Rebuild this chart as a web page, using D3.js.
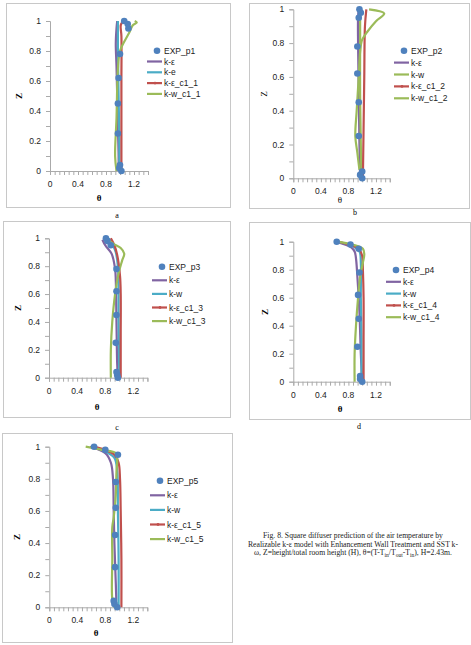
<!DOCTYPE html>
<html>
<head>
<meta charset="utf-8">
<script src="https://cdn.jsdelivr.net/npm/d3@7"></script>
<style>
  body { margin: 0; background: #fff; }
  svg text { font-family: "Liberation Sans", Arial, sans-serif; }
  .serif { font-family: "Liberation Serif", "Times New Roman", serif !important; }
</style>
</head>
<body>
<svg id="chart" width="471" height="645"></svg>
<script>
// measured heights (Z) of the experimental points, shared by all panels
const zLevels = [0, 0.02, 0.04, 0.25, 0.45, 0.62, 0.78, 0.95, 0.98, 1.0];

// experimental theta at each z level
const expP1 = [1.02, 0.99, 1.0, 0.97, 0.97, 0.98, 1.0, 1.12, 1.11, 1.06];
const expP2 = [1.0, 0.97, 1.0, 0.95, 0.95, 0.93, 0.93, 0.95, 0.98, 0.96];
const expP3 = [0.98, 0.97, 0.96, 0.95, 0.96, 0.96, 0.96, 0.88, 0.83, 0.81];
const expP4 = [1.0, 0.97, 0.97, 0.93, 0.95, 0.94, 0.96, 0.95, 0.83, 0.63];
const expP5 = [0.97, 0.93, 0.92, 0.94, 0.94, 0.95, 0.95, 0.98, 0.8, 0.64];

// model profiles as [theta, z]
const kEps1 = [[0.98,0],[0.98,0.1],[0.97,0.3],[0.96,0.5],[0.95,0.7],[0.94,0.85],[0.95,0.95],[0.96,1.0]];
const kE1 = [[0.99,0],[0.99,0.2],[0.98,0.5],[0.97,0.8],[0.97,0.95],[0.97,1.0]];
const kEpsC1 = [[1.02,0],[1.02,0.3],[1.02,0.6],[1.02,0.9],[1.01,0.97],[1.03,0.99]];
const kWC1 = [[0.95,0],[0.93,0.1],[0.95,0.35],[0.97,0.68],[1.0,0.8],[1.07,0.87],[1.14,0.93],[1.18,0.97],[1.24,0.99],[1.21,1.0]];

const kEps2 = [[0.97,0],[0.96,0.2],[0.95,0.5],[0.94,0.8],[0.94,0.95],[0.95,1.0]];
const kW2 = [[0.99,0],[0.98,0.2],[0.97,0.5],[0.97,0.8],[0.97,1.0]];
const kEpsC2 = [[1.01,0],[1.02,0.3],[1.03,0.6],[1.04,0.9],[1.06,1.0]];
const kWC2 = [[0.96,0.05],[0.93,0.15],[0.9,0.25],[0.92,0.4],[0.95,0.6],[0.97,0.75],[1.0,0.82],[1.08,0.87],[1.2,0.93],[1.32,0.975],[1.1,1.0]];

const kEps3 = [[0.98,0],[0.97,0.1],[0.96,0.4],[0.95,0.7],[0.94,0.78],[0.89,0.89],[0.8,0.95],[0.76,0.99]];
const kW3 = [[1.0,0],[0.99,0.4],[0.98,0.8],[0.95,0.9],[0.9,0.96],[0.85,1.0]];
const kEpsC3 = [[1.02,0],[1.02,0.3],[1.02,0.6],[1.01,0.73],[0.97,0.88],[0.93,0.95],[0.88,1.0]];
const kWC3 = [[0.88,0],[0.88,0.2],[0.9,0.4],[0.94,0.6],[0.99,0.75],[1.04,0.84],[1.07,0.89],[1.02,0.93],[0.92,0.96],[0.8,1.0]];

const kEps4 = [[1.0,0],[0.98,0.2],[0.96,0.5],[0.93,0.75],[0.91,0.88],[0.89,0.93],[0.84,0.96],[0.61,1.0]];
const kW4 = [[0.99,0],[0.99,0.3],[0.98,0.6],[0.98,0.85],[0.96,0.93],[0.85,0.97],[0.65,1.0]];
const kEpsC4 = [[1.02,0],[1.02,0.3],[1.02,0.6],[1.01,0.8],[1.0,0.9],[0.95,0.95],[0.8,0.98],[0.66,1.0]];
const kWC4 = [[0.89,0],[0.89,0.2],[0.91,0.4],[0.94,0.6],[0.97,0.75],[1.01,0.85],[1.03,0.91],[1.01,0.95],[0.85,0.98],[0.64,1.0]];

const kEps5 = [[0.96,0],[0.95,0.15],[0.93,0.4],[0.92,0.6],[0.91,0.8],[0.88,0.9],[0.8,0.96],[0.58,1.0]];
const kW5 = [[0.99,0],[0.99,0.3],[0.98,0.6],[0.97,0.85],[0.93,0.93],[0.8,0.97],[0.62,1.0]];
const kEpsC5 = [[1.03,0],[1.03,0.3],[1.02,0.6],[1.01,0.8],[0.99,0.9],[0.93,0.95],[0.8,0.98],[0.62,1.0]];
const kWC5 = [[0.93,0],[0.9,0.05],[0.9,0.3],[0.9,0.5],[0.92,0.56],[0.95,0.7],[0.96,0.85],[0.97,0.92],[0.95,0.96],[0.75,0.98],[0.52,1.0]];

// legend labels
const labels1 = ["EXP_p1", "k-ε", "k-e", "k-ε_c1_1", "k-w_c1_1"];
const labels2 = ["EXP_p2", "k-ε", "k-w", "k-ε_c1_2", "k-w_c1_2"];
const labels3 = ["EXP_p3", "k-ε", "k-w", "k-ε_c1_3", "k-w_c1_3"];
const labels4 = ["EXP_p4", "k-ε", "k-w", "k-ε_c1_4", "k-w_c1_4"];
const labels5 = ["EXP_p5", "k-ε", "k-w", "k-ε_c1_5", "k-w_c1_5"];

const xTickLabels = [0, 0.4, 0.8, 1.2];
const yTickLabels = [0, 0.2, 0.4, 0.6, 0.8, 1];

const expColor = "#4F81BD";
const lineColors = ["#8064A2", "#4BACC6", "#C0504D", "#9BBB59"];

// panel layout (frame, plot area, legend, titles)
const panels = [
  {exp: expP1, lines: [kEps1, kE1, kEpsC1, kWC1], labels: labels1, colors: lineColors,
   frame: [6, 3, 224, 204], x0: 50, unit: 70, yTop: 21, yBot: 171,
   leg: {x: 163, y: 50.7, dy: 10.8}, zt: [19, 96], tt: [99, 201], cap: ["a", 117, 218], bold: true},
  {exp: expP2, lines: [kEps2, kW2, kEpsC2, kWC2], labels: labels2, colors: ["#8064A2", "#9BBB59", "#C0504D", "#9BBB59"],
   frame: [249, 3, 220, 205], x0: 293.3, unit: 68.9, yTop: 9.3, yBot: 178.3,
   leg: {x: 410, y: 50.7, dy: 11.9}, zt: [264, 94], tt: [340, 203], cap: ["b", 355, 215], bold: false},
  {exp: expP3, lines: [kEps3, kW3, kEpsC3, kWC3], labels: labels3, colors: lineColors,
   frame: [3, 221, 227, 196], x0: 49, unit: 70.3, yTop: 238.3, yBot: 377.7,
   leg: {x: 168, y: 266.7, dy: 13.6}, zt: [18, 308], tt: [97, 410], cap: ["c", 117, 430], bold: true},
  {exp: expP4, lines: [kEps4, kW4, kEpsC4, kWC4], labels: labels4, colors: lineColors,
   frame: [249, 222, 221, 197], x0: 293.3, unit: 68.9, yTop: 241.7, yBot: 381.7,
   leg: {x: 402, y: 270, dy: 11.8}, zt: [265, 312], tt: [340, 412], cap: ["d", 359, 429], bold: true},
  {exp: expP5, lines: [kEps5, kW5, kEpsC5, kWC5], labels: labels5, colors: lineColors,
   frame: [2, 433, 230, 209], x0: 49.3, unit: 70, yTop: 446.7, yBot: 607.3,
   leg: {x: 166, y: 480.7, dy: 14.6}, zt: [17, 537], tt: [96, 636], cap: null, bold: true}
];

const svg = d3.select("#chart");

panels.forEach(p => drawPanel(p));

function drawPanel(p) {
  const g = svg.append("g");
  const [fx, fy, fw, fh] = p.frame;

  g.append("rect")
    .attr("x", fx + 0.5).attr("y", fy + 0.5)
    .attr("width", fw).attr("height", fh)
    .attr("fill", "#fff").attr("stroke", "#c8c8c8");

  const x = d3.scaleLinear().domain([0, 1.4]).range([p.x0, p.x0 + 1.4 * p.unit]);
  const y = d3.scaleLinear().domain([0, 1]).range([p.yBot, p.yTop]);

  // y axis
  const yAxis = d3.axisLeft(y)
    .tickValues(d3.range(0, 11).map(i => i / 10))
    .tickSize(4)
    .tickFormat("");
  const ya = g.append("g").attr("transform", `translate(${p.x0},0)`).call(yAxis);

  // x axis
  const xAxis = d3.axisBottom(x)
    .tickValues(d3.range(0, 22).map(i => i / 15))
    .tickSize(4)
    .tickFormat("");
  const xa = g.append("g").attr("transform", `translate(0,${p.yBot})`).call(xAxis);

  [ya, xa].forEach(a => {
    a.select(".domain").attr("stroke", "#aaa");
    a.selectAll(".tick line").attr("stroke", "#aaa");
  });

  g.selectAll(".ylab").data(yTickLabels).join("text")
    .attr("x", p.x0 - 9).attr("y", d => y(d) + 3)
    .attr("text-anchor", "end").attr("font-size", 8.5).attr("fill", "#222")
    .text(d => d);

  g.selectAll(".xlab").data(xTickLabels).join("text")
    .attr("x", d => x(d)).attr("y", p.yBot + 16)
    .attr("text-anchor", "middle").attr("font-size", 8.5).attr("fill", "#222")
    .text(d => d);

  // axis titles
  g.append("text").attr("class", "serif")
    .attr("transform", `translate(${p.zt[0] + 3},${p.zt[1]}) rotate(-90)`)
    .attr("text-anchor", "middle").attr("font-size", 9)
    .attr("font-weight", p.bold ? "bold" : "normal")
    .text("Z");
  g.append("text").attr("class", "serif")
    .attr("x", p.tt[0]).attr("y", p.tt[1])
    .attr("text-anchor", "middle").attr("font-size", 9)
    .attr("font-weight", p.bold ? "bold" : "normal")
    .text("θ");

  // model lines
  const line = d3.line()
    .x(d => x(d[0])).y(d => y(d[1]))
    .curve(d3.curveCatmullRom.alpha(0.5));
  p.lines.forEach((ln, i) => {
    g.append("path").datum(ln)
      .attr("d", line)
      .attr("fill", "none")
      .attr("stroke", p.colors[i])
      .attr("stroke-width", 2.2)
      .attr("stroke-linejoin", "round");
  });

  // experimental points
  const expData = zLevels.map((z, i) => ({z: z, t: p.exp[i]}));
  g.selectAll(".exp").data(expData).join("circle")
    .attr("cx", d => x(d.t)).attr("cy", d => y(d.z))
    .attr("r", 3.3).attr("fill", expColor);

  // legend
  const lg = g.append("g");
  p.labels.forEach((lab, i) => {
    const ly = p.leg.y + i * p.leg.dy;
    if (i === 0) {
      lg.append("circle").attr("cx", p.leg.x - 6).attr("cy", ly).attr("r", 3.3).attr("fill", expColor);
    } else {
      lg.append("line")
        .attr("x1", p.leg.x - 16).attr("x2", p.leg.x - 1)
        .attr("y1", ly).attr("y2", ly)
        .attr("stroke", p.colors[i - 1]).attr("stroke-width", 2.2);
      if (i === 3) {
        lg.append("circle").attr("cx", p.leg.x - 8).attr("cy", ly).attr("r", 1.4).attr("fill", p.colors[i - 1]);
      }
    }
    lg.append("text")
      .attr("x", p.leg.x + 1).attr("y", ly + 3)
      .attr("font-size", 8.5).attr("fill", "#222")
      .text(lab);
  });

  if (p.cap) {
    g.append("text").attr("class", "serif")
      .attr("x", p.cap[1]).attr("y", p.cap[2])
      .attr("text-anchor", "middle").attr("font-size", 8)
      .text(p.cap[0]);
  }
}

// figure caption
const cap = svg.append("text").attr("class", "serif")
  .attr("text-anchor", "middle").attr("font-size", 7.7).attr("fill", "#222");
cap.append("tspan").attr("x", 353).attr("y", 538)
  .text("Fig. 8. Square diffuser prediction of the air temperature by");
cap.append("tspan").attr("x", 353).attr("y", 546.5)
  .text("Realizable k-ε model with Enhancement Wall Treatment and SST k-");
const l3 = cap.append("tspan").attr("x", 353).attr("y", 555);
l3.append("tspan").text("ω, Z=height/total room height (H), θ=(T-T");
l3.append("tspan").attr("font-size", 5.5).attr("dy", 1.5).text("in");
l3.append("tspan").attr("dy", -1.5).text("/T");
l3.append("tspan").attr("font-size", 5.5).attr("dy", 1.5).text("out");
l3.append("tspan").attr("dy", -1.5).text("-T");
l3.append("tspan").attr("font-size", 5.5).attr("dy", 1.5).text("in");
l3.append("tspan").attr("dy", -1.5).text("), H=2.43m.");
</script>
</body>
</html>
